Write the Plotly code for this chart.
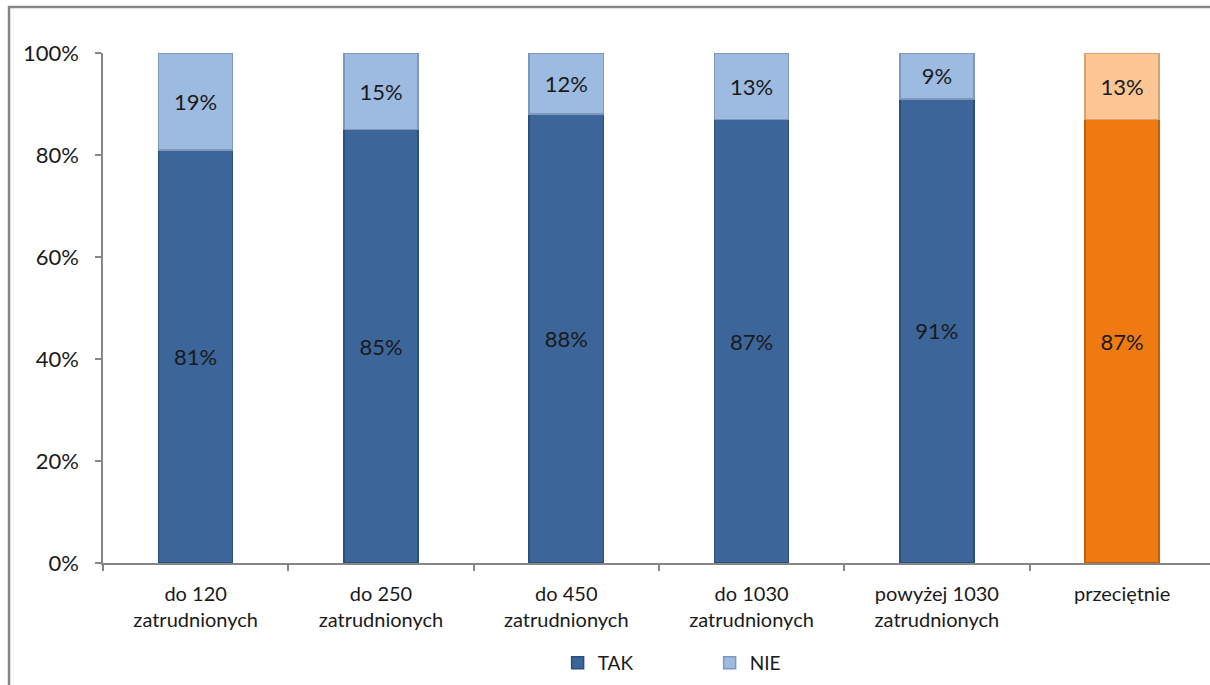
import plotly.graph_objects as go

categories = ["do 120<br>zatrudnionych", "do 250<br>zatrudnionych", "do 450<br>zatrudnionych",
              "do 1030<br>zatrudnionych", "powyżej 1030<br>zatrudnionych", "przeciętnie"]
tak = [81, 85, 88, 87, 91, 87]
nie = [19, 15, 12, 13, 9, 13]
tick_vals = [0, 20, 40, 60, 80, 100]
tick_text = ["0%", "20%", "40%", "60%", "80%", "100%"]

TAK_COL = "#3C659A"
NIE_COL = "#9DBAE0"
AVG_TAK = "#F07A12"
AVG_NIE = "#FBC694"

tak_colors = [TAK_COL] * (len(categories) - 1) + [AVG_TAK]
nie_colors = [NIE_COL] * (len(categories) - 1) + [AVG_NIE]
tak_lines = ["#2C4E7A"] * (len(categories) - 1) + ["#C05F0C"]
nie_lines = ["#7E98BC"] * (len(categories) - 1) + ["#D9A070"]

FONT = "Lato, 'Open Sans', sans-serif"

fig = go.Figure()
fig.add_trace(go.Bar(
    x=categories, y=tak, name="TAK", width=0.4,
    marker=dict(color=tak_colors, line=dict(color=tak_lines, width=1.5)),
    text=[f"{v}%" for v in tak], textposition="inside", insidetextanchor="middle",
    textangle=0, constraintext="none",
    textfont=dict(family=FONT, size=22, color="#1a1a1a"),
    hoverinfo="skip",
))
fig.add_trace(go.Bar(
    x=categories, y=nie, name="NIE", width=0.4,
    marker=dict(color=nie_colors, line=dict(color=nie_lines, width=1.5)),
    text=[f"{v}%" for v in nie], textposition="inside", insidetextanchor="middle",
    textangle=0, constraintext="none",
    textfont=dict(family=FONT, size=22, color="#1a1a1a"),
    hoverinfo="skip",
))

fig.update_layout(
    barmode="stack",
    width=1210, height=685,
    margin=dict(l=103, r=0, t=53, b=122),
    paper_bgcolor="white", plot_bgcolor="white",
    font=dict(family=FONT, color="#1a1a1a"),
    showlegend=True,
    legend=dict(orientation="h", x=0.548, xanchor="center", y=-0.196, yanchor="middle",
                font=dict(family=FONT, size=19, color="#1a1a1a"),
                entrywidth=107, traceorder="normal"),
    xaxis=dict(
        type="category", range=[-0.5, 5.474],
        showline=True, linecolor="#868686", linewidth=1.5,
        ticks="outside", tickson="boundaries", ticklen=6, tickcolor="#868686", tickwidth=1.5,
        tickfont=dict(family=FONT, size=20, color="#1a1a1a"),
        ticklabelstandoff=12,
        showgrid=False, zeroline=False,
    ),
    yaxis=dict(
        range=[0, 100], tickvals=tick_vals, ticktext=tick_text,
        showline=True, linecolor="#868686", linewidth=1.5,
        ticks="outside", ticklen=6, tickcolor="#868686", tickwidth=1.5,
        tickfont=dict(family=FONT, size=22, color="#1a1a1a"),
        ticklabelstandoff=12,
        showgrid=False, zeroline=False,
    ),
    shapes=[dict(type="rect", xref="paper", yref="paper",
                 x0=-0.0849, x1=1.2, y0=-0.4, y1=1.0902,
                 line=dict(color="#868686", width=2.5), fillcolor="rgba(0,0,0,0)",
                 layer="below")],
)

fig.write_html("out.html",
               config={"displayModeBar": False},
               post_script="document.body.style.margin='0';document.body.style.overflow='hidden';")
